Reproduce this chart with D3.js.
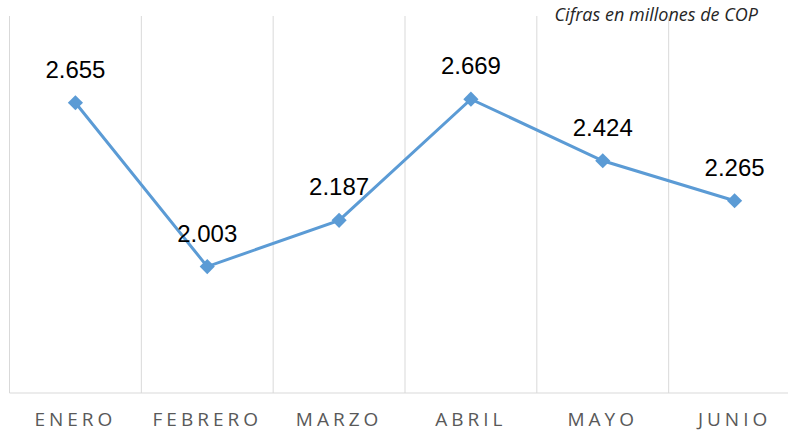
<!DOCTYPE html>
<html>
<head>
<meta charset="utf-8">
<script src="https://cdn.jsdelivr.net/npm/d3@7"></script>
<style>
  body { margin: 0; background: #fff; }
  svg { display: block; }
</style>
</head>
<body>
<svg id="chart" width="788" height="438"></svg>
<script>
// monthly figures, millions of COP
const months = ["ENERO", "FEBRERO", "MARZO", "ABRIL", "MAYO", "JUNIO"];
const values = [2.655, 2.003, 2.187, 2.669, 2.424, 2.265];
const valueLabels = ["2.655", "2.003", "2.187", "2.669", "2.424", "2.265"];

const svg = d3.select("#chart");

const plot = { left: 9.5, right: 800.5, top: 16, bottom: 393 };

const x = d3.scaleBand().domain(months).range([plot.left, plot.right]);
const y = d3.scaleLinear().domain([1.5, 3.0]).range([plot.bottom, plot.top]);

// vertical gridlines at band edges
const edges = months.map(m => x(m)).concat([x(months[months.length - 1]) + x.bandwidth()]);
svg.append("g").selectAll("line")
  .data(edges)
  .join("line")
  .attr("x1", d => d).attr("x2", d => d)
  .attr("y1", plot.top).attr("y2", plot.bottom)
  .attr("stroke", "#d9d9d9")
  .attr("stroke-width", 1);

// baseline
svg.append("line")
  .attr("x1", plot.left).attr("x2", plot.right)
  .attr("y1", plot.bottom).attr("y2", plot.bottom)
  .attr("stroke", "#d9d9d9")
  .attr("stroke-width", 1);

// category axis
const xAxis = svg.append("g")
  .attr("transform", "translate(0," + plot.bottom + ")")
  .call(d3.axisBottom(x).tickSize(0).tickPadding(20));
xAxis.select(".domain").remove();
xAxis.selectAll("text")
  .attr("font-family", "Open Sans")
  .attr("font-size", "19px")
  .attr("letter-spacing", "4px")
  .attr("fill", "#595959");

const cx = d => x(d) + x.bandwidth() / 2;

const line = d3.line()
  .x((d, i) => cx(months[i]))
  .y(d => y(d));

svg.append("path")
  .datum(values)
  .attr("d", line)
  .attr("fill", "none")
  .attr("stroke", "#5b9bd5")
  .attr("stroke-width", 3);

svg.append("g").selectAll("path")
  .data(values)
  .join("path")
  .attr("d", d3.symbol(d3.symbolSquare, 115))
  .attr("transform", (d, i) => "translate(" + cx(months[i]) + "," + y(d) + ") rotate(45)")
  .attr("fill", "#5b9bd5");

svg.append("g").selectAll("text")
  .data(values)
  .join("text")
  .attr("x", (d, i) => cx(months[i]))
  .attr("y", d => y(d) - 25)
  .attr("text-anchor", "middle")
  .attr("font-family", "Liberation Sans")
  .attr("font-size", "24px")
  .attr("fill", "#000")
  .text((d, i) => valueLabels[i]);

svg.append("text")
  .attr("x", 758)
  .attr("y", 21)
  .attr("text-anchor", "end")
  .attr("font-family", "Open Sans")
  .attr("font-style", "italic")
  .attr("font-size", "18px")
  .attr("fill", "#262626")
  .text("Cifras en millones de COP");
</script>
</body>
</html>
